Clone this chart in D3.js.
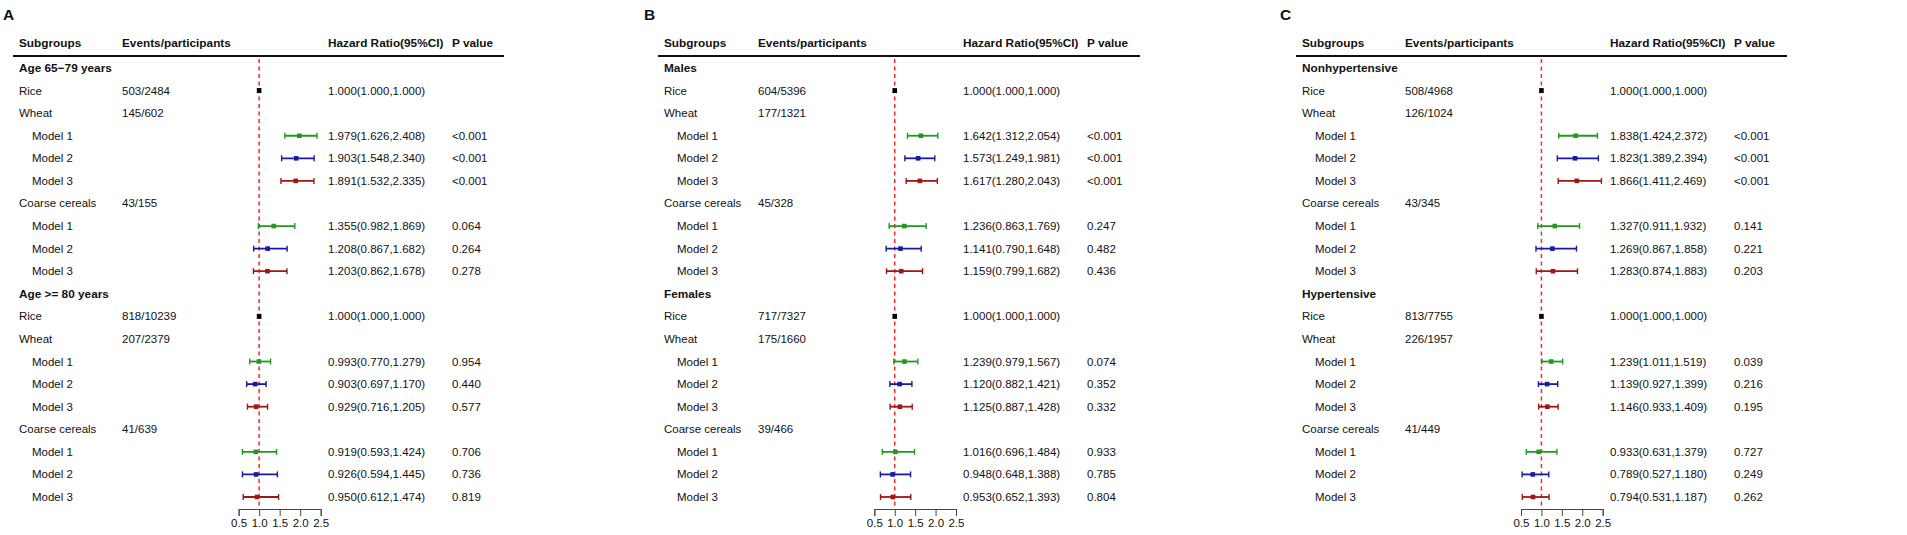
<!DOCTYPE html>
<html><head><meta charset="utf-8">
<script src="https://cdn.jsdelivr.net/npm/d3@7"></script>
<style>
body{margin:0;background:#fff;}
text{font-family:"Liberation Sans",Arial,Helvetica,sans-serif;fill:#111;}
</style></head>
<body><svg id="c" width="1907" height="535"></svg>
<script>
// ---------- DATA ----------
const panelLetters = ["A", "B", "C"];
const headers = ["Subgroups", "Events/participants", "Hazard Ratio(95%CI)", "P value"];
const groupTitles = [
  ["Age 65\u221279 years", "Age >= 80 years"],
  ["Males", "Females"],
  ["Nonhypertensive", "Hypertensive"]
];
const foodLabels = ["Rice", "Wheat", "Coarse cereals"];
const modelLabels = ["Model 1", "Model 2", "Model 3"];
const events = [
  [["503/2484", "145/602", "43/155"], ["818/10239", "207/2379", "41/639"]],
  [["604/5396", "177/1321", "45/328"], ["717/7327", "175/1660", "39/466"]],
  [["508/4968", "126/1024", "43/345"], ["813/7755", "226/1957", "41/449"]]
];
// [hr, lower, upper] for Wheat M1..M3 then Coarse M1..M3
const hrA1 = [[1.979,1.626,2.408],[1.903,1.548,2.340],[1.891,1.532,2.335],[1.355,0.982,1.869],[1.208,0.867,1.682],[1.203,0.862,1.678]];
const hrA2 = [[0.993,0.770,1.279],[0.903,0.697,1.170],[0.929,0.716,1.205],[0.919,0.593,1.424],[0.926,0.594,1.445],[0.950,0.612,1.474]];
const hrB1 = [[1.642,1.312,2.054],[1.573,1.249,1.981],[1.617,1.280,2.043],[1.236,0.863,1.769],[1.141,0.790,1.648],[1.159,0.799,1.682]];
const hrB2 = [[1.239,0.979,1.567],[1.120,0.882,1.421],[1.125,0.887,1.428],[1.016,0.696,1.484],[0.948,0.648,1.388],[0.953,0.652,1.393]];
const hrC1 = [[1.838,1.424,2.372],[1.823,1.389,2.394],[1.866,1.411,2.469],[1.327,0.911,1.932],[1.269,0.867,1.858],[1.283,0.874,1.883]];
const hrC2 = [[1.239,1.011,1.519],[1.139,0.927,1.399],[1.146,0.933,1.409],[0.933,0.631,1.379],[0.789,0.527,1.180],[0.794,0.531,1.187]];
const pA1 = ["<0.001","<0.001","<0.001","0.064","0.264","0.278"];
const pA2 = ["0.954","0.440","0.577","0.706","0.736","0.819"];
const pB1 = ["<0.001","<0.001","<0.001","0.247","0.482","0.436"];
const pB2 = ["0.074","0.352","0.332","0.933","0.785","0.804"];
const pC1 = ["<0.001","<0.001","<0.001","0.141","0.221","0.203"];
const pC2 = ["0.039","0.216","0.195","0.727","0.249","0.262"];
const referenceHR = [1.000, 1.000, 1.000];
const axisTicks = [0.5, 1.0, 1.5, 2.0, 2.5];

const hrData = [[hrA1, hrA2], [hrB1, hrB2], [hrC1, hrC2]];
const pData = [[pA1, pA2], [pB1, pB2], [pC1, pC2]];

// ---------- LAYOUT ----------
const layout = [
  {letter:3,   sub:19,   ev:122,  hr:328,  p:452,  l0:13,   l1:504,  x0:238.6, x1:320.7},
  {letter:644, sub:664,  ev:758,  hr:963,  p:1087, l0:658,  l1:1140, x0:874.3, x1:956.0},
  {letter:1280,sub:1302, ev:1405, hr:1610, p:1734, l0:1296, l1:1787, x0:1521.0,x1:1602.7}
];
const modelColors = ["#1f9a1f", "#1a1aa0", "#a01515"];
const f3 = d3.format(".3f");
const svg = d3.select("#c");
const yRow = d3.scaleLinear().domain([0, 19]).range([68, 497]);

panelLetters.forEach((L, pi) => {
  const lay = layout[pi];
  const g = svg.append("g");
  const x = d3.scaleLinear().domain([0.5, 2.5]).range([lay.x0, lay.x1]);

  g.append("text").attr("x", lay.letter).attr("y", 20).text(L)
    .style("font-size", "15.5px").style("font-weight", "bold");

  const hx = [lay.sub, lay.ev, lay.hr, lay.p];
  headers.forEach((h, i) => {
    g.append("text").attr("x", hx[i]).attr("y", 43).attr("dy", "0.35em").text(h)
      .style("font-size", "11.8px").style("font-weight", "bold");
  });
  g.append("line").attr("x1", lay.l0).attr("x2", lay.l1).attr("y1", 56).attr("y2", 56)
    .attr("stroke", "#111").attr("stroke-width", 2);

  // reference line
  g.append("line").attr("x1", x(1)).attr("x2", x(1)).attr("y1", 59).attr("y2", 508)
    .attr("stroke", "#ee2a2a").attr("stroke-width", 1.5).attr("stroke-dasharray", "4,3.5");

  // rows
  const rows = [];
  [0, 1].forEach(gi => {
    const base = gi * 10;
    rows.push({r: base, label: groupTitles[pi][gi], bold: true});
    rows.push({r: base + 1, label: foodLabels[0], ev: events[pi][gi][0], ref: referenceHR});
    rows.push({r: base + 2, label: foodLabels[1], ev: events[pi][gi][1]});
    for (let m = 0; m < 3; m++) rows.push({r: base + 3 + m, label: modelLabels[m], model: m, hr: hrData[pi][gi][m], p: pData[pi][gi][m]});
    rows.push({r: base + 6, label: foodLabels[2], ev: events[pi][gi][2]});
    for (let m = 0; m < 3; m++) rows.push({r: base + 7 + m, label: modelLabels[m], model: m, hr: hrData[pi][gi][3 + m], p: pData[pi][gi][3 + m]});
  });

  rows.forEach(d => {
    const y = yRow(d.r);
    g.append("text").attr("x", d.model !== undefined ? lay.sub + 13 : lay.sub).attr("y", y).attr("dy", "0.35em")
      .text(d.label).style("font-size", d.bold ? "11.8px" : "11.5px").style("font-weight", d.bold ? "bold" : "normal");
    if (d.ev) g.append("text").attr("x", lay.ev).attr("y", y).attr("dy", "0.35em").text(d.ev).style("font-size", "11.5px");
    if (d.ref) {
      g.append("text").attr("x", lay.hr).attr("y", y).attr("dy", "0.35em")
        .text(`${f3(d.ref[0])}(${f3(d.ref[1])},${f3(d.ref[2])})`).style("font-size", "11.5px");
      g.append("rect").attr("x", x(d.ref[0]) - 2.3).attr("y", y - 2.5).attr("width", 4.6).attr("height", 5).attr("fill", "#000");
    }
    if (d.hr) {
      const c = modelColors[d.model];
      g.append("line").attr("x1", x(d.hr[1])).attr("x2", x(d.hr[2])).attr("y1", y).attr("y2", y)
        .attr("stroke", c).attr("stroke-width", 1.8);
      [d.hr[1], d.hr[2]].forEach(v => g.append("line").attr("x1", x(v)).attr("x2", x(v)).attr("y1", y - 3).attr("y2", y + 3)
        .attr("stroke", c).attr("stroke-width", 1.4));
      g.append("rect").attr("x", x(d.hr[0]) - 2.3).attr("y", y - 2.3).attr("width", 4.6).attr("height", 4.6).attr("fill", c);
      g.append("text").attr("x", lay.hr).attr("y", y).attr("dy", "0.35em")
        .text(`${f3(d.hr[0])}(${f3(d.hr[1])},${f3(d.hr[2])})`).style("font-size", "11.5px");
      g.append("text").attr("x", lay.p).attr("y", y).attr("dy", "0.35em").text(d.p).style("font-size", "11.5px");
    }
  });

  // axis
  const ax = g.append("g").attr("transform", "translate(0,509)")
    .call(d3.axisBottom(x).tickValues(axisTicks).tickFormat(d3.format(".1f")).tickSizeOuter(0).tickSize(7).tickPadding(3));
  ax.select(".domain").attr("stroke", "#444");
  ax.selectAll(".tick line").attr("stroke", "#444");
  ax.selectAll(".tick text").style("font-size", "11.5px").style("font-family", "'Liberation Sans',Arial,sans-serif").attr("fill", "#111");
});
</script></body></html>
